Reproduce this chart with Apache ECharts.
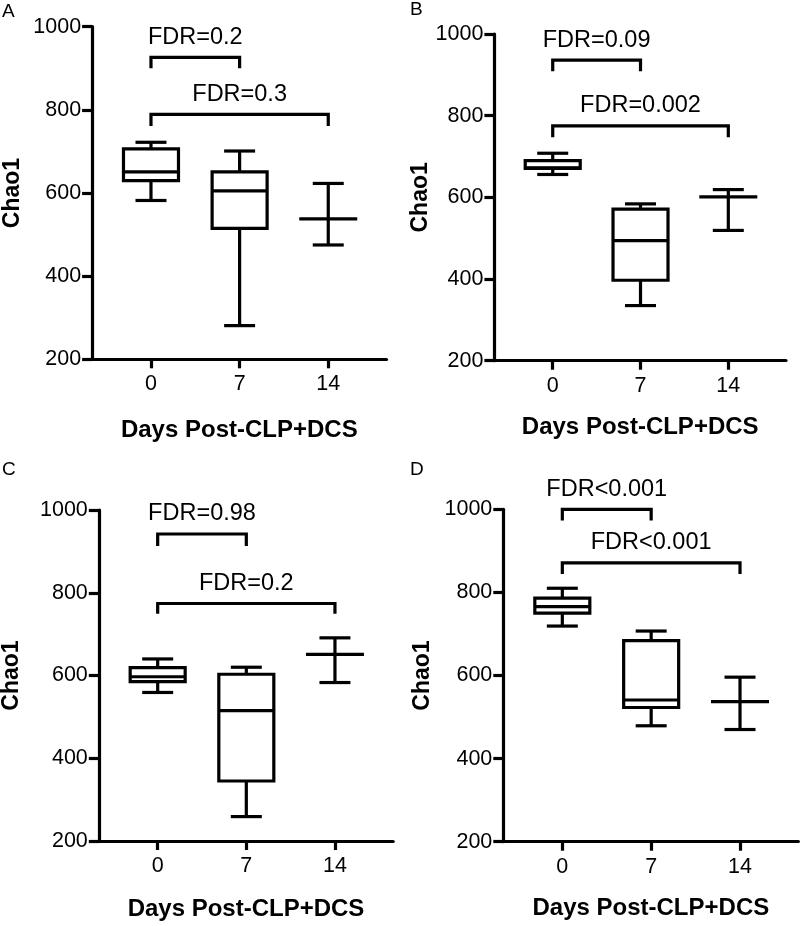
<!DOCTYPE html>
<html>
<head>
<meta charset="utf-8">
<script src="https://cdn.jsdelivr.net/npm/echarts@6/dist/echarts.min.js"></script>
<style>
html,body{margin:0;padding:0;background:#fff;}
#chart{width:800px;height:926px;}
</style>
</head>
<body>
<div id="chart"></div>
<script>
// ---------------- DATA ----------------
const days = [0, 7, 14];
const yTicks = [200, 400, 600, 800, 1000];
const panelLetters = ['A', 'B', 'C', 'D'];
const xTitle = 'Days Post-CLP+DCS';
const yTitle = 'Chao1';

// Panel A
const minA = [582, 281, 475];
const q1A  = [630, 515, 538];
const medA = [651, 605, 538];
const q3A  = [706, 651, 538];
const maxA = [722, 701, 623];
// Panel B
const minB = [656, 335, 519];
const q1B  = [671, 397, 601];
const medB = [672, 494, 601];
const q3B  = [690, 571, 601];
const maxB = [708, 584, 619];
// Panel C
const minC = [559, 259, 583];
const q1C  = [585, 345, 651];
const medC = [597, 515, 651];
const q3C  = [619, 603, 651];
const maxC = [640, 620, 691];
// Panel D
const minD = [719, 479, 470];
const q1D  = [750, 523, 537];
const medD = [766, 541, 537];
const q3D  = [786, 684, 537];
const maxD = [810, 707, 596];

// Significance brackets (days from -> to)
const bracketPairs = [[0, 7], [0, 14]];
const bracketTopA = [926, 789]; const bracketLegA = [900, 761]; const fdrA = ['FDR=0.2', 'FDR=0.3'];
const bracketTopB = [936, 775]; const bracketLegB = [909, 747]; const fdrB = ['FDR=0.09', 'FDR=0.002'];
const bracketTopC = [942, 774]; const bracketLegC = [913, 749]; const fdrC = ['FDR=0.98', 'FDR=0.2'];
const bracketTopD = [1000, 871]; const bracketLegD = [973, 844]; const fdrD = ['FDR<0.001', 'FDR<0.001'];

// ---------------- LAYOUT ----------------
const FONT = '"Liberation Sans", Arial, Helvetica, sans-serif';
const grids = [
  {left: 92.1, top: 26.7, width: 294.4, height: 332.6},
  {left: 494.4, top: 34, width: 291.6, height: 326.7},
  {left: 98.8, top: 510, width: 294.4, height: 331},
  {left: 503.3, top: 509.3, width: 295.1, height: 332.4}
];
const yNameGaps = [68, 62, 76, 69];
const xNameGaps = [59, 54.5, 56, 55];
const letterPos = [[2, 2], [410, 0], [2, 460], [410, 460]];

const panels = [
  {min: minA, q1: q1A, med: medA, q3: q3A, max: maxA, top: bracketTopA, leg: bracketLegA, fdr: fdrA},
  {min: minB, q1: q1B, med: medB, q3: q3B, max: maxB, top: bracketTopB, leg: bracketLegB, fdr: fdrB},
  {min: minC, q1: q1C, med: medC, q3: q3C, max: maxC, top: bracketTopC, leg: bracketLegC, fdr: fdrC},
  {min: minD, q1: q1D, med: medD, q3: q3D, max: maxD, top: bracketTopD, leg: bracketLegD, fdr: fdrD}
];

const LW = 3.2;
function renderBox(params, api) {
  const x = api.value(0);
  const pMin = api.coord([x, api.value(1)]);
  const pQ1 = api.coord([x, api.value(2)]);
  const pMed = api.coord([x, api.value(3)]);
  const pQ3 = api.coord([x, api.value(4)]);
  const pMax = api.coord([x, api.value(5)]);
  const cx = pMin[0];
  const hw = 27.5, cw = 15.5;
  const st = {stroke: '#000', lineWidth: LW, fill: null, lineCap: 'butt'};
  const ch = [];
  ch.push({type: 'line', shape: {x1: cx, y1: pMax[1], x2: cx, y2: pQ3[1]}, style: st});
  ch.push({type: 'line', shape: {x1: cx, y1: pQ1[1], x2: cx, y2: pMin[1]}, style: st});
  ch.push({type: 'line', shape: {x1: cx - cw, y1: pMax[1], x2: cx + cw, y2: pMax[1]}, style: st});
  ch.push({type: 'line', shape: {x1: cx - cw, y1: pMin[1], x2: cx + cw, y2: pMin[1]}, style: st});
  if (pQ1[1] - pQ3[1] > 0.5) {
    ch.push({type: 'rect', shape: {x: cx - hw, y: pQ3[1], width: 2 * hw, height: pQ1[1] - pQ3[1]},
      style: {stroke: '#000', lineWidth: LW, fill: '#fff', lineJoin: 'miter'}});
    ch.push({type: 'line', shape: {x1: cx - hw, y1: pMed[1], x2: cx + hw, y2: pMed[1]}, style: st});
  } else {
    ch.push({type: 'line', shape: {x1: cx - hw - 1.5, y1: pMed[1], x2: cx + hw + 1.5, y2: pMed[1]}, style: st});
  }
  return {type: 'group', children: ch};
}

function makeBracketRenderer(labels) {
  return function (params, api) {
    const p1 = api.coord([api.value(0), api.value(2)]);
    const p2 = api.coord([api.value(1), api.value(2)]);
    const legY = api.coord([api.value(0), api.value(3)])[1];
    return {
      type: 'group',
      children: [
        {type: 'polyline', shape: {points: [[p1[0], legY], [p1[0], p1[1]], [p2[0], p1[1]], [p2[0], legY]]},
          style: {stroke: '#000', lineWidth: LW, fill: null, lineJoin: 'miter'}},
        {type: 'text', style: {text: labels[params.dataIndex], x: (p1[0] + p2[0]) / 2, y: p1[1] - 20,
          align: 'center', verticalAlign: 'middle', font: '23.5px ' + FONT, fill: '#000'}}
      ]
    };
  };
}

const option = {
  animation: false,
  backgroundColor: '#fff',
  grid: [], xAxis: [], yAxis: [], series: [],
  graphic: panelLetters.map((L, i) => ({
    type: 'text', left: letterPos[i][0], top: letterPos[i][1],
    style: {text: L, font: '19px ' + FONT, fill: '#000'}
  }))
};

panels.forEach((p, i) => {
  option.grid.push(Object.assign({outerBoundsMode: 'none', containLabel: false}, grids[i]));
  option.xAxis.push({
    type: 'value', gridIndex: i, min: -4.65, max: 18.6,
    name: xTitle, nameLocation: 'middle', nameGap: xNameGaps[i],
    nameTextStyle: {fontFamily: FONT, fontWeight: 'bold', fontSize: 24, color: '#000'},
    axisLine: {show: true, onZero: false, lineStyle: {color: '#000', width: LW}},
    axisTick: {show: true, length: 9, inside: false, customValues: days, lineStyle: {color: '#000', width: LW}},
    axisLabel: {show: true, customValues: days, margin: 14, fontFamily: FONT, fontSize: 21.5, color: '#000',
      formatter: v => String(v)},
    splitLine: {show: false}
  });
  option.yAxis.push({
    type: 'value', gridIndex: i, min: yTicks[0], max: yTicks[yTicks.length - 1], interval: 200,
    name: yTitle, nameLocation: 'middle', nameGap: yNameGaps[i],
    nameTextStyle: {fontFamily: FONT, fontWeight: 'bold', fontSize: 23, color: '#000'},
    axisLine: {show: true, onZero: false, lineStyle: {color: '#000', width: LW}},
    axisTick: {show: true, length: 10, inside: false, lineStyle: {color: '#000', width: LW}},
    axisLabel: {show: true, margin: 11, fontFamily: FONT, fontSize: 21.5, color: '#000',
      formatter: v => String(v)},
    splitLine: {show: false}
  });
  option.series.push({
    type: 'custom', xAxisIndex: i, yAxisIndex: i, clip: false,
    encode: {x: 0, y: [1, 2, 3, 4, 5]},
    data: days.map((d, k) => [d, p.min[k], p.q1[k], p.med[k], p.q3[k], p.max[k]]),
    renderItem: renderBox
  });
  option.series.push({
    type: 'custom', xAxisIndex: i, yAxisIndex: i, clip: false,
    encode: {x: [0, 1], y: [2, 3]},
    data: bracketPairs.map((bp, k) => [bp[0], bp[1], p.top[k], p.leg[k]]),
    renderItem: makeBracketRenderer(p.fdr)
  });
});

const chart = echarts.init(document.getElementById('chart'), null, {renderer: 'canvas'});
chart.setOption(option);
</script>
</body>
</html>
